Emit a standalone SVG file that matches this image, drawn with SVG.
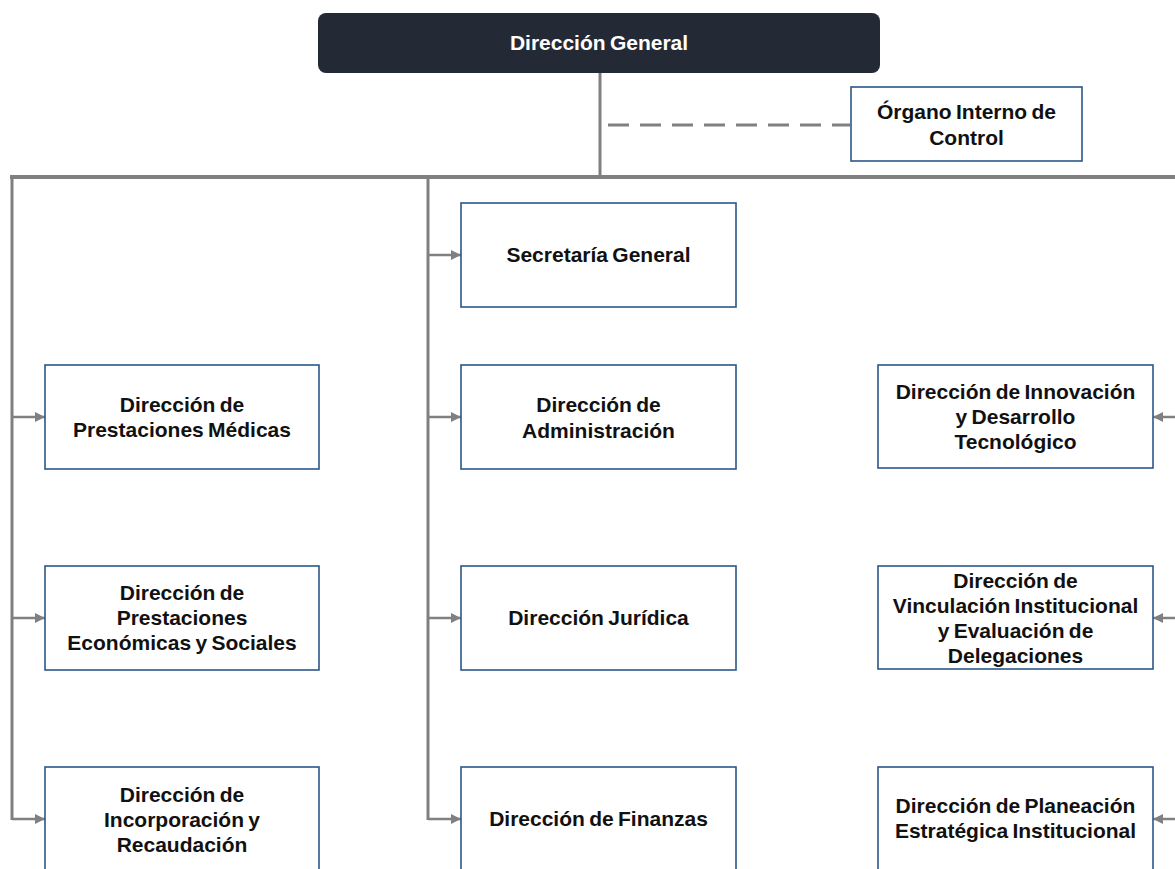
<svg xmlns="http://www.w3.org/2000/svg" width="1175" height="869" viewBox="0 0 1175 869">
  <style>
    .box { fill: #ffffff; stroke: #2a5789; stroke-width: 1.6; }
    .head { fill: #232a36; }
    .t { font-family: "Liberation Sans", Arial, sans-serif; font-weight: bold; font-size: 21px; fill: #111111; text-anchor: middle; word-spacing: -1.5px; }
    .tw { fill: #ffffff; }
    .ln { stroke: #808080; stroke-width: 3; fill: none; }
    .trunk { stroke: #808080; stroke-width: 4; fill: none; }
    .dash { stroke: #808080; stroke-width: 3; fill: none; stroke-dasharray: 21 11; }
    .arr { stroke: #808080; stroke-width: 2.5; fill: none; marker-end: url(#ah); }
  </style>
  <defs>
    <marker id="ah" viewBox="0 0 10 10" refX="10" refY="5" markerWidth="11" markerHeight="10" markerUnits="userSpaceOnUse" orient="auto">
      <path d="M0,0 L10,5 L0,10 Z" fill="#808080"/>
    </marker>
  </defs>
  <rect width="1175" height="869" fill="#ffffff"/>

  <g id="connectors">
    <line class="ln" x1="600" y1="73" x2="600" y2="177"/>
    <line class="trunk" x1="10" y1="177" x2="1175" y2="177"/>
    <line class="dash" x1="608" y1="125" x2="850" y2="125"/>
    <line class="ln" x1="12" y1="177" x2="12" y2="820"/>
    <line class="ln" x1="428" y1="177" x2="428" y2="820"/>
    <line class="arr" x1="12" y1="417" x2="45" y2="417"/>
    <line class="arr" x1="12" y1="618" x2="45" y2="618"/>
    <line class="arr" x1="12" y1="819" x2="45" y2="819"/>
    <line class="arr" x1="428" y1="255" x2="461" y2="255"/>
    <line class="arr" x1="428" y1="417" x2="461" y2="417"/>
    <line class="arr" x1="428" y1="618" x2="461" y2="618"/>
    <line class="arr" x1="428" y1="819" x2="461" y2="819"/>
    <line class="arr" x1="1176" y1="417" x2="1153" y2="417"/>
    <line class="arr" x1="1176" y1="618" x2="1153" y2="618"/>
    <line class="arr" x1="1176" y1="819" x2="1153" y2="819"/>
  </g>

  <g id="direccion-general">
    <rect class="head" x="318" y="13" width="562" height="60" rx="8"/>
    <text class="t tw" x="599" y="50">Dirección General</text>
  </g>

  <g id="organo-interno">
    <rect class="box" x="851" y="87" width="231" height="74"/>
    <text class="t" x="966.5" y="119">Órgano Interno de</text>
    <text class="t" x="966.5" y="145">Control</text>
  </g>

  <g id="secretaria-general">
    <rect class="box" x="461" y="203" width="275" height="104"/>
    <text class="t" x="598.5" y="262">Secretaría General</text>
  </g>

  <g id="prestaciones-medicas">
    <rect class="box" x="45" y="365" width="274" height="104"/>
    <text class="t" x="182" y="412">Dirección de</text>
    <text class="t" x="182" y="437">Prestaciones Médicas</text>
  </g>

  <g id="administracion">
    <rect class="box" x="461" y="365" width="275" height="104"/>
    <text class="t" x="598.5" y="412">Dirección de</text>
    <text class="t" x="598.5" y="438">Administración</text>
  </g>

  <g id="innovacion">
    <rect class="box" x="878" y="365" width="275" height="103"/>
    <text class="t" x="1015.5" y="399">Dirección de Innovación</text>
    <text class="t" x="1015.5" y="424">y Desarrollo</text>
    <text class="t" x="1015.5" y="449">Tecnológico</text>
  </g>

  <g id="prestaciones-economicas">
    <rect class="box" x="45" y="566" width="274" height="104"/>
    <text class="t" x="182" y="600">Dirección de</text>
    <text class="t" x="182" y="625">Prestaciones</text>
    <text class="t" x="182" y="650">Económicas y Sociales</text>
  </g>

  <g id="juridica">
    <rect class="box" x="461" y="566" width="275" height="104"/>
    <text class="t" x="598.5" y="625">Dirección Jurídica</text>
  </g>

  <g id="vinculacion">
    <rect class="box" x="878" y="566" width="275" height="103"/>
    <text class="t" x="1015.5" y="588">Dirección de</text>
    <text class="t" x="1015.5" y="613">Vinculación Institucional</text>
    <text class="t" x="1015.5" y="638">y Evaluación de</text>
    <text class="t" x="1015.5" y="663">Delegaciones</text>
  </g>

  <g id="incorporacion">
    <rect class="box" x="45" y="767" width="274" height="110"/>
    <text class="t" x="182" y="802">Dirección de</text>
    <text class="t" x="182" y="827">Incorporación y</text>
    <text class="t" x="182" y="852">Recaudación</text>
  </g>

  <g id="finanzas">
    <rect class="box" x="461" y="767" width="275" height="110"/>
    <text class="t" x="598.5" y="826">Dirección de Finanzas</text>
  </g>

  <g id="planeacion">
    <rect class="box" x="878" y="767" width="275" height="110"/>
    <text class="t" x="1015.5" y="813">Dirección de Planeación</text>
    <text class="t" x="1015.5" y="838">Estratégica Institucional</text>
  </g>
</svg>
